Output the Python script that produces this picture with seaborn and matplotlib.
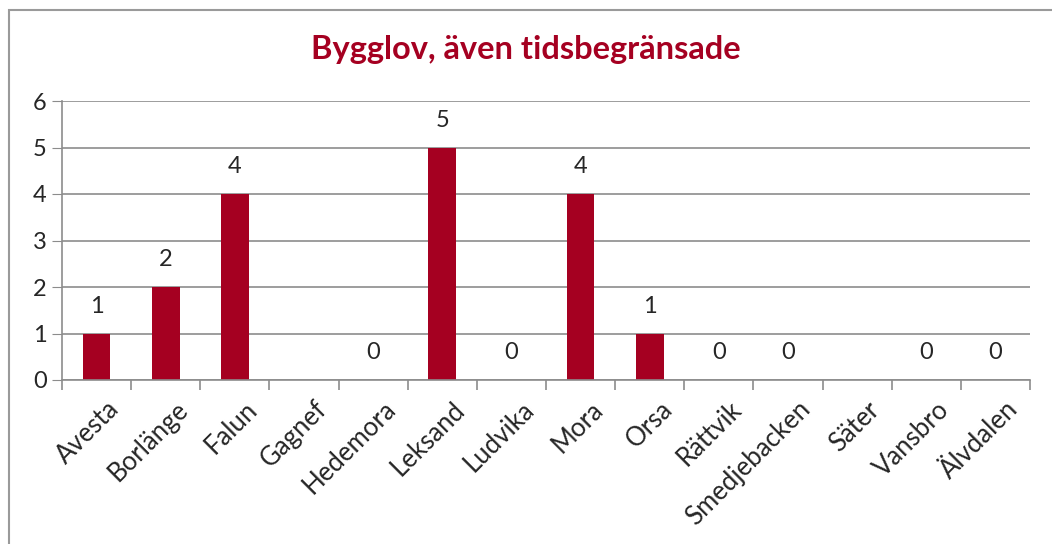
import numpy as np
import pandas as pd
import seaborn as sns
import matplotlib.pyplot as plt
import matplotlib.transforms as mtransforms
from matplotlib.patches import Rectangle

kommuner = ["Avesta", "Borlänge", "Falun", "Gagnef", "Hedemora", "Leksand", "Ludvika",
            "Mora", "Orsa", "Rättvik", "Smedjebacken", "Säter", "Vansbro", "Älvdalen"]
bygglov = [1, 2, 4, np.nan, 0, 5, 0, 4, 1, 0, 0, np.nan, 0, 0]
y_ticks = [0, 1, 2, 3, 4, 5, 6]

title = "Bygglov, även tidsbegränsade"
bar_color = "#A50021"
grid_color = "#8C8C8C"

df = pd.DataFrame({"kommun": kommuner, "antal": bygglov})

sns.set_style("white")
plt.rcParams['font.family'] = ['Lato', 'DejaVu Sans']

fig = plt.figure(figsize=(10.52, 5.44), dpi=100)
ax = fig.add_axes([62 / 1052, 1 - 380 / 544, (1030 - 62) / 1052, (380 - 101) / 544])

sns.barplot(data=df, x="kommun", y="antal", order=kommuner, color=bar_color,
            width=0.4, saturation=1, ax=ax, errorbar=None, linewidth=0)

ax.set_ylim(0, 6)
ax.set_xlim(-0.5, len(kommuner) - 0.5)
ax.set_yticks(y_ticks)
ax.yaxis.grid(True, color=grid_color, linewidth=1.2)
ax.set_axisbelow(True)
for s in ["top", "right"]:
    ax.spines[s].set_visible(False)
for s in ["left", "bottom"]:
    ax.spines[s].set_color(grid_color)
    ax.spines[s].set_linewidth(1.2)

ax.set_xlabel("")
ax.set_ylabel("")
ax.tick_params(axis="y", length=7, color=grid_color, labelsize=17, pad=4, left=True)
ax.set_xticks(np.arange(len(kommuner)))
ax.set_xticklabels(kommuner, rotation=45, ha="right", rotation_mode="anchor", fontsize=18.5)
ax.tick_params(axis="x", which="major", length=0, pad=12)
ax.set_xticks(np.arange(-0.5, len(kommuner), 1), minor=True)
ax.tick_params(axis="x", which="minor", length=7, color=grid_color, width=1.2, bottom=True)

shift = mtransforms.ScaledTranslation(10 / 100, 0, fig.dpi_scale_trans)
for lbl in ax.get_xticklabels():
    lbl.set_transform(lbl.get_transform() + shift)

for i, v in enumerate(bygglov):
    if np.isnan(v):
        continue
    ax.annotate(f"{int(v)}", (i, v), xytext=(0, 12), textcoords="offset points",
                ha="center", va="bottom", fontsize=17)

fig.text(0.5, 1 - 50 / 544, title, ha="center", va="center", fontsize=23.5,
         fontweight="bold", color=bar_color)

fig.patches.append(Rectangle((9 / 1052, -0.1), 1.2, 1 - 10 / 544 + 0.1, transform=fig.transFigure,
                             fill=False, edgecolor="#9A9A9A", linewidth=1.5))

fig.savefig("out.png", dpi=100)
